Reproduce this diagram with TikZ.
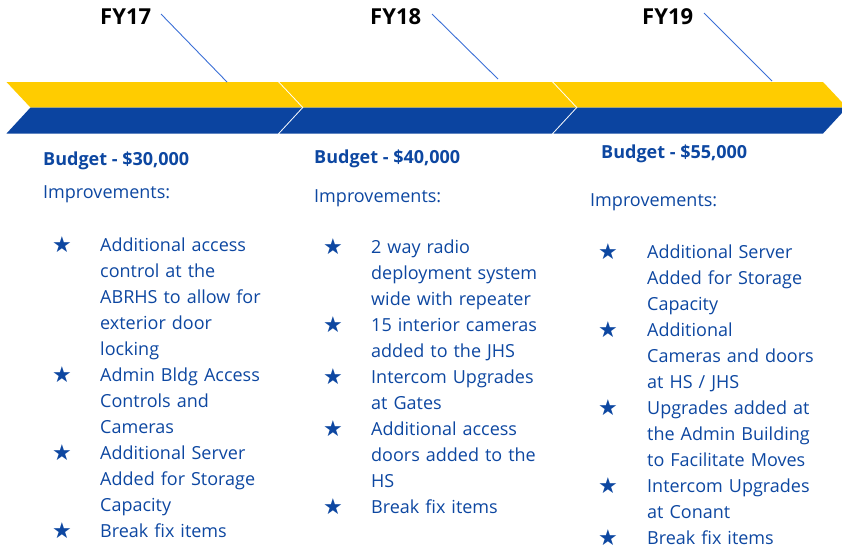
\documentclass[tikz,border=0pt]{standalone}
\usepackage{fontspec}
\setmainfont{Open Sans}
\newfontfamily\starfont{DejaVu Sans}
\definecolor{bandyellow}{HTML}{FFCC00}
\definecolor{bandblue}{HTML}{0B44A0}
\definecolor{txtblue}{HTML}{0D47A1}
\definecolor{leaderblue}{HTML}{3B6FD6}
\tikzset{
  yearlabel/.style={anchor=base west, inner sep=0pt, font=\fontsize{22}{24}\selectfont\bfseries, text=black},
  leader/.style={draw=leaderblue, line width=0.9pt},
  budget/.style={anchor=base west, inner sep=0pt, font=\fontsize{18}{20}\selectfont\bfseries, text=txtblue},
  improv/.style={anchor=base west, inner sep=0pt, font=\fontsize{18}{20}\selectfont, text=txtblue},
  item/.style={anchor=base west, inner sep=0pt, text width=190pt, align=left,
    font=\fontsize{18}{26}\selectfont, text=txtblue},
  staricon/.style={anchor=base, inner sep=0pt, font=\starfont\fontsize{22}{22}\selectfont, text=txtblue},
}
% one chevron segment of the timeline band: #1 left x, #2 right x
\newcommand{\bandsegment}[2]{%
  \fill[bandyellow] (#1,82) -- (#2,82) -- ({#2+24},107.5) -- ({#1+24},107.5) -- cycle;
  \fill[bandblue] ({#1+24},107.5) -- ({#2+24},107.5) -- (#2,133.5) -- (#1,133.5) -- cycle;
}
\begin{document}
\begin{tikzpicture}[x=1pt,y=-1pt]
  \useasboundingbox (0,0) rectangle (842,550);
  \clip (0,0) rectangle (842,550);

  % timeline band
  \bandsegment{6.5}{278}
  \bandsegment{279.5}{552}
  \bandsegment{553.5}{823}

  % year labels and leaders
  \node[yearlabel] (fy17) at (100,24) {FY17};
  \node[yearlabel] (fy18) at (370,24) {FY18};
  \node[yearlabel] (fy19) at (642,24) {FY19};
  \coordinate (l17a) at (161,14);  \coordinate (l17b) at (227,82);
  \coordinate (l18a) at (432,14);  \coordinate (l18b) at (498,79);
  \coordinate (l19a) at (704,13);  \coordinate (l19b) at (772,81);
  \draw[leader] (l17a) -- (l17b);
  \draw[leader] (l18a) -- (l18b);
  \draw[leader] (l19a) -- (l19b);

  % FY17 column
  \node[budget] (b17) at (43,165) {Budget - \$30,000};
  \node[improv] (i17) at (43,198) {Improvements:};
  \node[item] (a1) at (100,251) {Additional access\\control at the\\ABRHS to allow for\\exterior door\\locking};
  \node[item] (a2) at (100,381) {Admin Bldg Access\\Controls and\\Cameras};
  \node[item] (a3) at (100,459) {Additional Server\\Added for Storage\\Capacity};
  \node[item] (a4) at (100,537) {Break fix items};
  \node[staricon] (sa1) at (62,252) {★};
  \node[staricon] (sa2) at (62,382) {★};
  \node[staricon] (sa3) at (62,460) {★};
  \node[staricon] (sa4) at (62,538) {★};

  % FY18 column
  \node[budget] (b18) at (314,163.3) {Budget - \$40,000};
  \node[improv] (i18) at (314,202.3) {Improvements:};
  \node[item] (b1) at (371,253.3) {2 way radio\\deployment system\\wide with repeater};
  \node[item] (b2) at (371,331.3) {15 interior cameras\\added to the JHS};
  \node[item] (b3) at (371,383.3) {Intercom Upgrades\\at Gates};
  \node[item] (b4) at (371,435.3) {Additional access\\doors added to the\\HS};
  \node[item] (b5) at (371,513.3) {Break fix items};
  \node[staricon] (sb1) at (333,254.3) {★};
  \node[staricon] (sb2) at (333,332.3) {★};
  \node[staricon] (sb3) at (333,384.3) {★};
  \node[staricon] (sb4) at (333,436.3) {★};
  \node[staricon] (sb5) at (333,514.3) {★};

  % FY19 column
  \node[budget] (b19) at (601,158.3) {Budget - \$55,000};
  \node[improv] (i19) at (590,206) {Improvements:};
  \node[item] (c1) at (647,258.3) {Additional Server\\Added for Storage\\Capacity};
  \node[item] (c2) at (647,336.3) {Additional\\Cameras and doors\\at HS / JHS};
  \node[item] (c3) at (647,414.3) {Upgrades added at\\the Admin Building\\to Facilitate Moves};
  \node[item] (c4) at (647,492.3) {Intercom Upgrades\\at Conant};
  \node[item] (c5) at (647,544.3) {Break fix items};
  \node[staricon] (sc1) at (608,259.3) {★};
  \node[staricon] (sc2) at (608,337.3) {★};
  \node[staricon] (sc3) at (608,415.3) {★};
  \node[staricon] (sc4) at (608,493.3) {★};
  \node[staricon] (sc5) at (608,545.3) {★};
\end{tikzpicture}
\end{document}
